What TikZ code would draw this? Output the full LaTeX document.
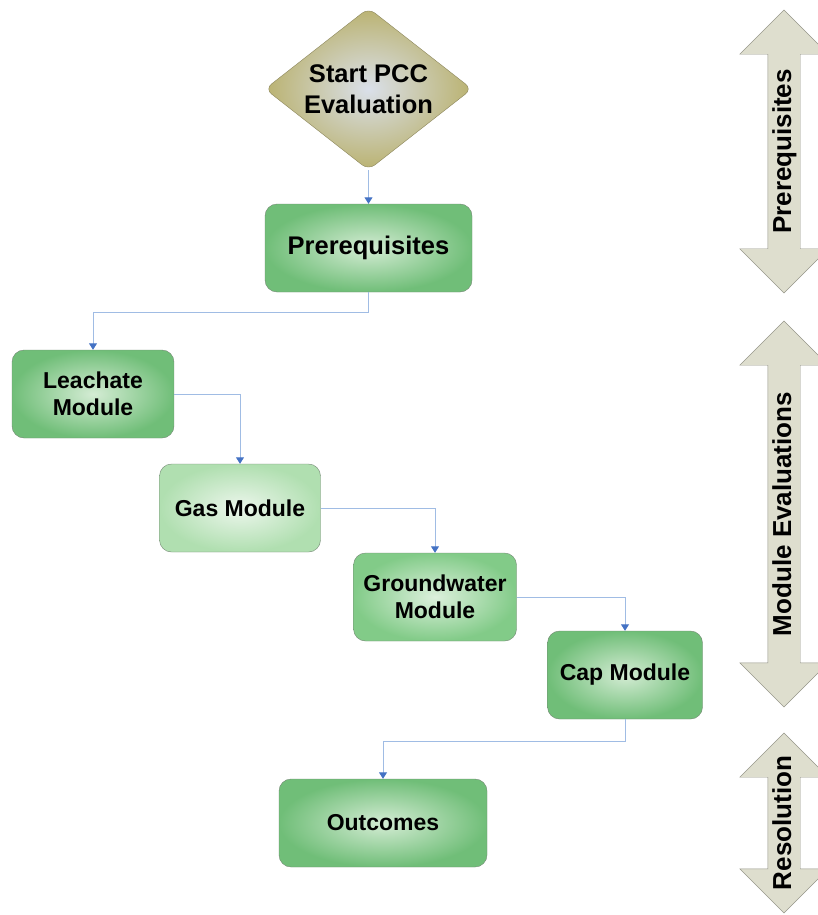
\documentclass[tikz,border=0pt]{standalone}
\usepackage{fontspec}
\setmainfont{Liberation Sans}
\usepackage{tikz}
\usetikzlibrary{shapes.geometric, shapes.arrows, arrows.meta}
\definecolor{linkblue}{RGB}{160,188,228}
\definecolor{tipblue}{RGB}{68,114,196}
\definecolor{boxline}{RGB}{115,135,115}
\definecolor{greenout}{RGB}{112,190,120}
\definecolor{greenin}{RGB}{212,236,212}
\definecolor{gasout}{RGB}{176,223,176}
\definecolor{gasin}{RGB}{236,246,236}
\definecolor{groundout}{RGB}{130,203,136}
\definecolor{groundin}{RGB}{220,240,220}
\definecolor{startout}{RGB}{186,178,112}
\definecolor{startin}{RGB}{218,224,234}
\definecolor{startline}{RGB}{140,134,92}
\definecolor{phasefill}{RGB}{222,222,206}
\definecolor{phaseline}{RGB}{150,150,138}
\tikzstyle{startstop} = [diamond, aspect=1.28, minimum width=207pt, minimum height=162pt, inner sep=0pt, rounded corners=8pt, draw=startline, shading=radial, inner color=startin, outer color=startout, align=center, font=\fontsize{25.5}{31}\selectfont\bfseries]
\tikzstyle{process} = [rectangle, rounded corners=12pt, minimum height=88pt, text centered, align=center, draw=boxline, shading=radial, inner color=greenin, outer color=greenout, font=\fontsize{23}{27}\selectfont\bfseries]
\tikzstyle{phase} = [double arrow, rotate=90, draw=phaseline, fill=phasefill, double arrow head extend=28pt, double arrow tip angle=90, text height=19pt, text depth=5pt, inner ysep=4pt, inner xsep=0pt, font=\fontsize{26}{30}\selectfont\bfseries]
\tikzstyle{arrow} = [draw=linkblue, line width=0.9pt, -{Triangle[width=8pt, length=6.5pt, color=tipblue]}]

\begin{document}
\begin{tikzpicture}[x=1pt, y=-1pt]
    \useasboundingbox (0,0) rectangle (817,915);
    % Nodes
    \node (start) [startstop] at (368.5,89) {Start PCC\\Evaluation};
    \node (prereq) [process, minimum width=207pt, font=\fontsize{25.5}{30}\selectfont\bfseries] at (368.5,248) {Prerequisites};
    \node (leach) [process, minimum width=162pt] at (93,394) {Leachate\\Module};
    \node (gas) [process, minimum width=161pt, inner color=gasin, outer color=gasout] at (240,508) {Gas Module};
    \node (ground) [process, minimum width=163pt, inner color=groundin, outer color=groundout] at (435,597) {Groundwater\\Module};
    \node (cap) [process, minimum width=155pt] at (625,675) {Cap Module};
    \node (outc) [process, minimum width=208pt] at (383,823) {Outcomes};
    % Phases
    \node (phpre) [phase, minimum height=283pt] at (784,151.5) {Prerequisites};
    \node (phmod) [phase, minimum height=386pt] at (784,514) {Module Evaluations};
    \node (phres) [phase, minimum height=180pt] at (784,823) {Resolution};
    % Arrows
    \draw [arrow] (start) -- (prereq);
    \draw [arrow] (prereq.south) -- ++(0,20) -| (leach.north);
    \draw [arrow] (leach.east) -| (gas.north);
    \draw [arrow] (gas.east) -| (ground.north);
    \draw [arrow] (ground.east) -| (cap.north);
    \draw [arrow] (cap.south) -- ++(0,22) -| (outc.north);
\end{tikzpicture}
\end{document}
